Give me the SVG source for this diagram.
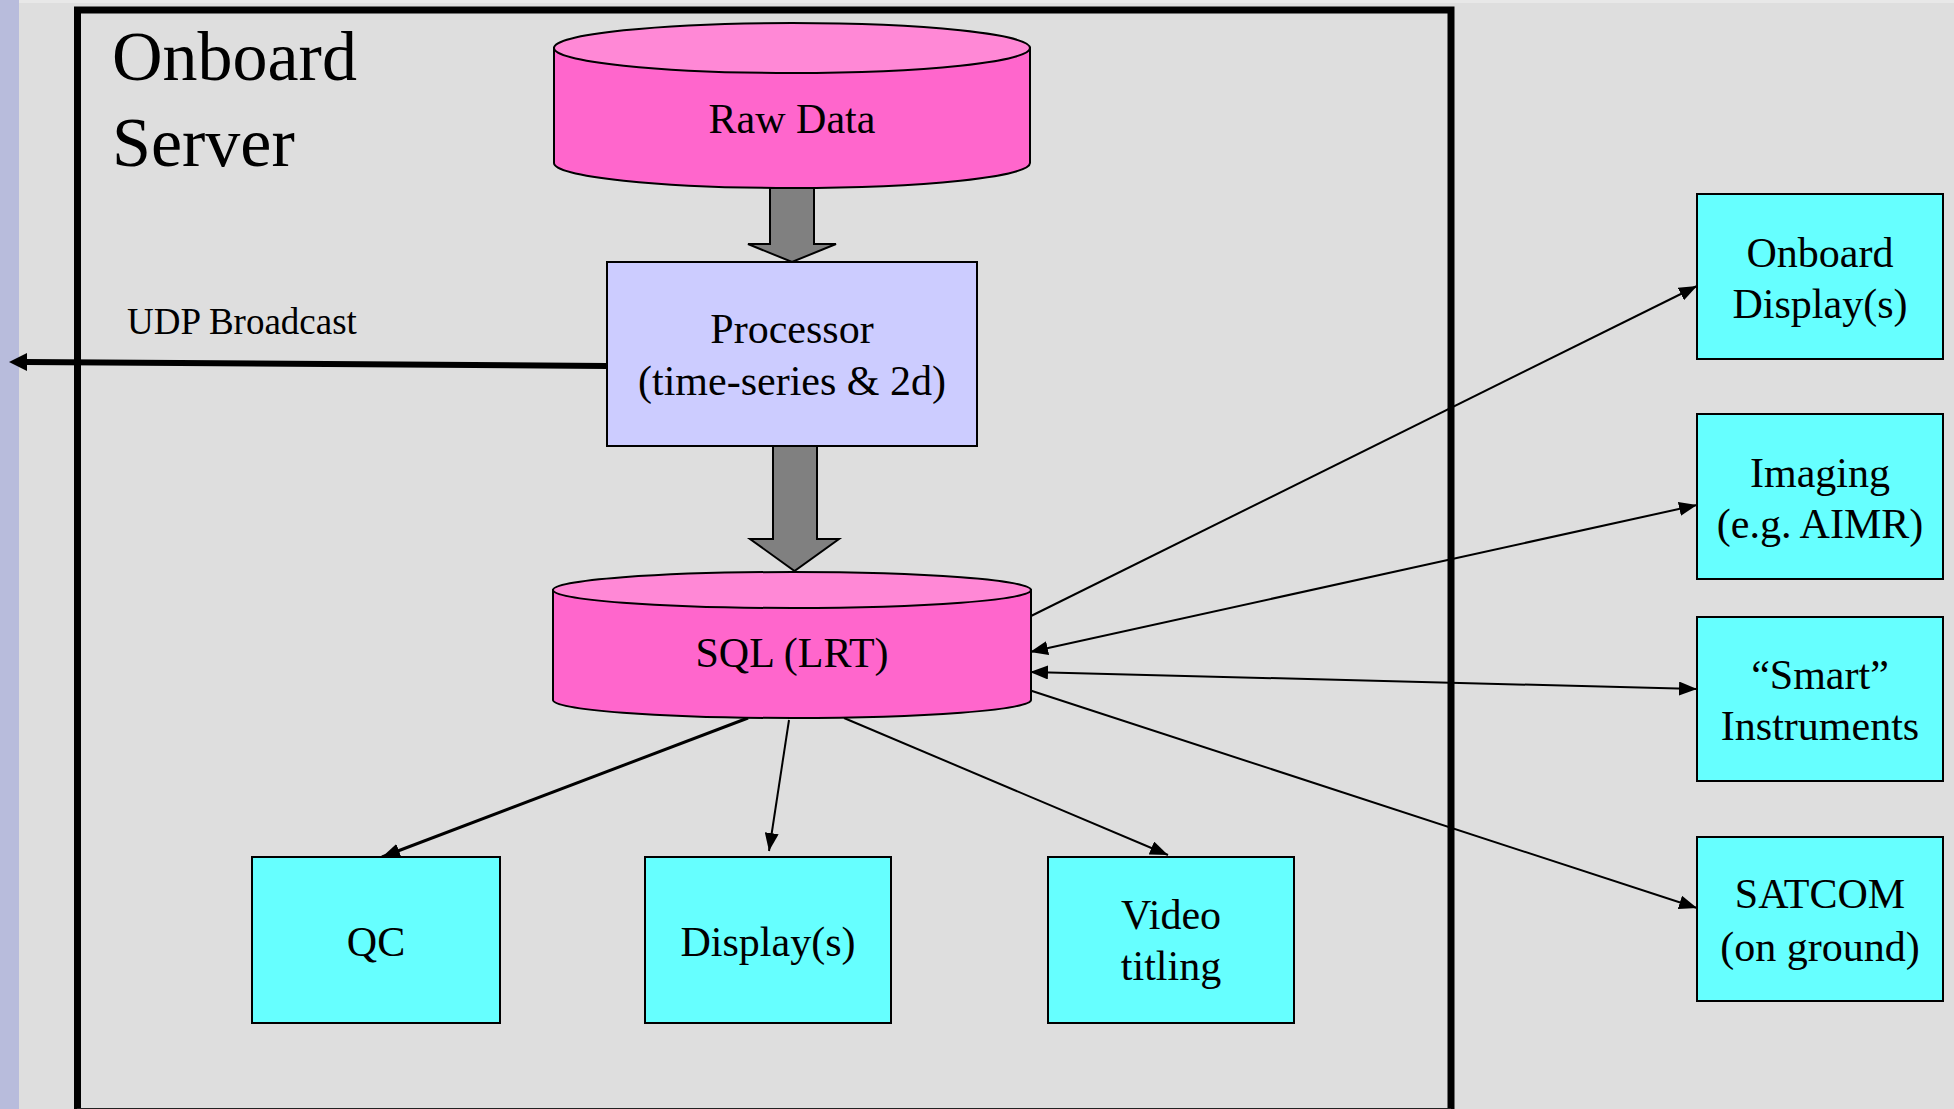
<svg xmlns="http://www.w3.org/2000/svg" width="1954" height="1109" viewBox="0 0 1954 1109">
<style>
text{font-family:"Liberation Serif","Times New Roman",serif;fill:#000;text-anchor:middle}
.lbl{font-size:42px}
.box{fill:#66ffff;stroke:#000;stroke-width:2}
.cylb{fill:#ff66cc;stroke:#000;stroke-width:2}
.cylt{fill:#ff88d6;stroke:#000;stroke-width:2}
.blk{fill:#808080;stroke:#000;stroke-width:2}
.ln{stroke:#000;stroke-width:2;fill:none}
</style>
<defs>
<marker id="ah" markerUnits="userSpaceOnUse" markerWidth="18" markerHeight="14" refX="18" refY="7" orient="auto-start-reverse">
<path d="M0,0 L18,7 L0,14 z" fill="#000"/>
</marker>
</defs>
<rect x="0" y="0" width="1954" height="1109" fill="#dedede"/>
<rect x="0" y="0" width="1954" height="3" fill="#e8e8e8"/>
<rect x="0" y="0" width="19" height="1109" fill="#b8bcdc"/>

<g id="frame">
<path d="M77.5,1120 L77.5,10 L1451,10 L1451,1120" fill="none" stroke="#000" stroke-width="7"/>
<line x1="77" y1="1108.5" x2="1451" y2="1108.5" stroke="#222" stroke-width="1"/>
<text x="112" y="80" font-size="70" style="text-anchor:start">Onboard</text>
<text x="112" y="166" font-size="70" style="text-anchor:start">Server</text>
</g>

<g id="connectors">
<polygon class="blk" points="770,188 814,188 814,244 836,244 792,262 748,244 770,244"/>
<polygon class="blk" points="773,446 817,446 817,539 839,539 794.5,571 750,539 773,539"/>
<line x1="607" y1="366" x2="26" y2="362" stroke="#000" stroke-width="6"/>
<path d="M9,362 L27,353 L27,371 z" fill="#000"/>
<text x="127" y="334" font-size="37" style="text-anchor:start">UDP Broadcast</text>
<line x1="748" y1="718" x2="382" y2="857" stroke="#000" stroke-width="3" marker-end="url(#ah)"/>
<line x1="789" y1="720" x2="769" y2="851" class="ln" marker-end="url(#ah)"/>
<line x1="844" y1="718" x2="1168" y2="855" class="ln" marker-end="url(#ah)"/>
<line x1="1029" y1="617" x2="1697" y2="286" class="ln" marker-end="url(#ah)"/>
<line x1="1030" y1="652" x2="1697" y2="505" class="ln" marker-start="url(#ah)" marker-end="url(#ah)"/>
<line x1="1030" y1="672" x2="1697" y2="689" class="ln" marker-start="url(#ah)" marker-end="url(#ah)"/>
<line x1="1029" y1="690" x2="1697" y2="908" class="ln" marker-end="url(#ah)"/>
</g>

<g id="rawdata">
<path class="cylb" d="M554,48 L554,163 A238,25 0 0 0 1030,163 L1030,48 z"/>
<ellipse class="cylt" cx="792" cy="48" rx="238" ry="25"/>
<text class="lbl" x="792" y="133">Raw Data</text>
</g>

<g id="processor">
<rect x="607" y="262" width="370" height="184" fill="#ccccff" stroke="#000" stroke-width="2"/>
<text class="lbl" x="792" y="343">Processor</text>
<text class="lbl" x="792" y="395">(time-series &amp; 2d)</text>
</g>

<g id="sql">
<path class="cylb" d="M553,590 L553,700 A239,18 0 0 0 1031,700 L1031,590 z"/>
<ellipse class="cylt" cx="792" cy="590" rx="239" ry="18"/>
<text class="lbl" x="792" y="667">SQL (LRT)</text>
</g>

<g id="qc">
<rect class="box" x="252" y="857" width="248" height="166"/>
<text class="lbl" x="376" y="956">QC</text>
</g>
<g id="displays">
<rect class="box" x="645" y="857" width="246" height="166"/>
<text class="lbl" x="768" y="956">Display(s)</text>
</g>
<g id="video">
<rect class="box" x="1048" y="857" width="246" height="166"/>
<text class="lbl" x="1171" y="929">Video</text>
<text class="lbl" x="1171" y="980">titling</text>
</g>

<g id="onboarddisplay">
<rect class="box" x="1697" y="194" width="246" height="165"/>
<text class="lbl" x="1820" y="267">Onboard</text>
<text class="lbl" x="1820" y="318">Display(s)</text>
</g>
<g id="imaging">
<rect class="box" x="1697" y="414" width="246" height="165"/>
<text class="lbl" x="1820" y="487">Imaging</text>
<text class="lbl" x="1820" y="538">(e.g. AIMR)</text>
</g>
<g id="smart">
<rect class="box" x="1697" y="617" width="246" height="164"/>
<text class="lbl" x="1820" y="689">“Smart”</text>
<text class="lbl" x="1820" y="740">Instruments</text>
</g>
<g id="satcom">
<rect class="box" x="1697" y="837" width="246" height="164"/>
<text class="lbl" x="1820" y="908">SATCOM</text>
<text class="lbl" x="1820" y="961">(on ground)</text>
</g>
</svg>
